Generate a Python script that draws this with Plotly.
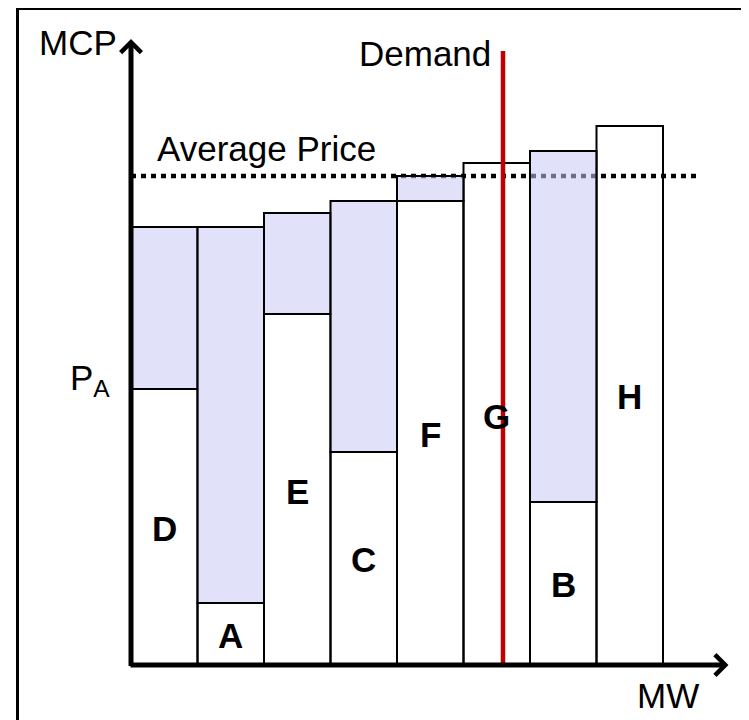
import plotly.graph_objects as go

# ---- data ----
units = ["D", "A", "E", "C", "F", "G", "B", "H"]
block_mw = [100, 100, 100, 100, 100, 100, 100, 100]
base_price = [55.2, 12.4, 70.2, 42.6, 92.8, 100.4, 32.6, 107.8]
top_price = [87.6, 87.6, 90.4, 92.8, 97.8, 100.4, 102.8, 107.8]
label_price = [27.4, 6.0, 34.8, 21.2, 46.2, 49.8, 16.2, 53.8]
average_price = 97.8
average_end_mw = 852.6
demand_mw = 559.4
demand_top = 122.8
p_a = 57.0

# cumulative positions
starts = []
acc = 0
for w in block_mw:
    starts.append(acc)
    acc += w
centers = [s + w / 2 for s, w in zip(starts, block_mw)]
extra = [t - b for t, b in zip(top_price, base_price)]

FONT = "Arial, Liberation Sans, Helvetica, sans-serif"
LAV = "rgba(200,200,246,0.55)"

W, H = 741, 712  # page body has an 8px margin

fig = go.Figure()

# white (base) blocks
fig.add_trace(go.Bar(
    x=centers, y=base_price, width=block_mw, base=0,
    marker=dict(color="rgba(255,255,255,0)", line=dict(color="black", width=2)),
    hoverinfo="skip", showlegend=False))

# lavender (extra) blocks
ex_x = [c for c, e in zip(centers, extra) if e > 0]
ex_y = [e for e in extra if e > 0]
ex_b = [b for b, e in zip(base_price, extra) if e > 0]
ex_w = [w for w, e in zip(block_mw, extra) if e > 0]
fig.add_trace(go.Bar(
    x=ex_x, y=ex_y, base=ex_b, width=ex_w,
    marker=dict(color=LAV, line=dict(color="black", width=2)),
    hoverinfo="skip", showlegend=False))

# demand line
fig.add_trace(go.Scatter(
    x=[demand_mw, demand_mw], y=[0, demand_top], mode="lines",
    line=dict(color="#c00000", width=4.5), hoverinfo="skip", showlegend=False))

# average price line (below bars)
fig.add_shape(type="line", xref="x", yref="y", x0=0, x1=average_end_mw,
              y0=average_price, y1=average_price, layer="below",
              line=dict(color="black", width=4.5, dash="5px,5px"))

# outer frame
fig.add_shape(type="rect", xref="paper", yref="paper",
              x0=9.5 / W, x1=1.05, y0=-0.05, y1=1 - 0.5 / H,
              line=dict(color="black", width=3), fillcolor="rgba(0,0,0,0)")

# axes with arrows
fig.add_annotation(x=0, y=125.2, ax=0, ay=-0.6, xref="x", yref="y", axref="x", ayref="y",
                   showarrow=True, arrowhead=4, arrowsize=0.8, arrowwidth=5,
                   arrowcolor="black", text=" ", font=dict(size=1))
fig.add_annotation(x=898.5, y=0, ax=-3, ay=0, xref="x", yref="y", axref="x", ayref="y",
                   showarrow=True, arrowhead=4, arrowsize=0.8, arrowwidth=5,
                   arrowcolor="black", text=" ", font=dict(size=1))

# unit letters
for u, c, ly in zip(units, centers, label_price):
    fig.add_annotation(x=c, y=ly, text="<b>%s</b>" % u, showarrow=False,
                       font=dict(family=FONT, size=35, color="black"),
                       xanchor="center", yanchor="middle")

def txt(x, y, t, size=35):
    fig.add_annotation(x=x, y=y, text=t, showarrow=False,
                       font=dict(family=FONT, size=size, color="black"),
                       xanchor="center", yanchor="middle")

txt(-79.7, 124.6, "MCP")
txt(442.1, 122.4, "Demand")
txt(203, 103.4, "Average Price")
txt(-61.7, p_a, "P<sub>A</sub>")
txt(807.5, -6, "MW")

# page px -> data: x = (px-131)/0.665 ; y = (665-py)/5 ; figure origin at page (8,8)
fig.update_layout(
    width=W, height=H,
    margin=dict(l=0, r=0, t=0, b=0),
    paper_bgcolor="white", plot_bgcolor="white",
    barmode="overlay",
    xaxis=dict(range=[-123 / 0.665, (W - 123) / 0.665], visible=False),
    yaxis=dict(range=[-(H - 657) / 5, 657 / 5], visible=False),
)

fig.write_html("out.html")
